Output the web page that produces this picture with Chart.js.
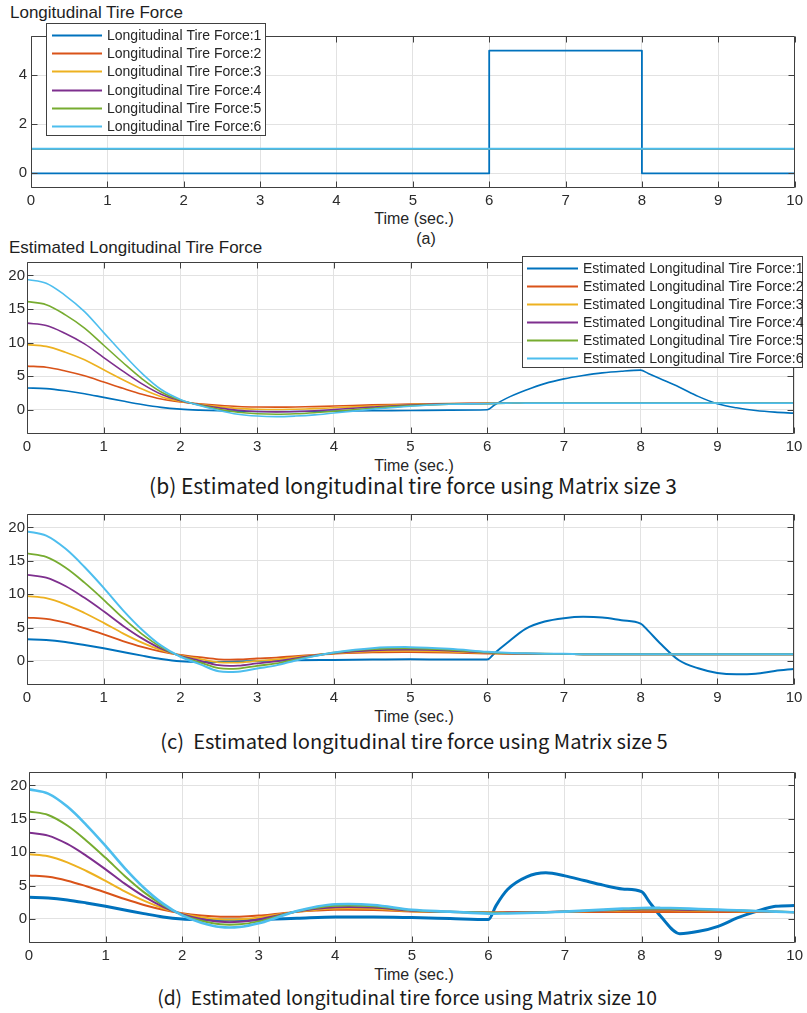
<!DOCTYPE html>
<html><head><meta charset="utf-8">
<script src="https://cdn.jsdelivr.net/npm/chart.js@4.4.1/dist/chart.umd.min.js"></script>
<style>
html,body{margin:0;padding:0;background:#fff;}
body{width:807px;height:1013px;position:relative;overflow:hidden;font-family:"Liberation Sans",Arial,sans-serif;color:#262626;}
canvas{position:absolute;left:0;}
.t{position:absolute;white-space:pre;line-height:1;}
.title{font-size:17px;color:#1e1e1e;transform:translateY(-50%);}
.xl{font-size:16px;color:#262626;transform:translate(-50%,-50%);}
.cap{font-family:"Noto Sans CJK KR","Noto Sans",sans-serif;font-size:17px;color:#1a1a1a;transform:translate(-50%,-50%);}
</style></head><body>
<div class="t title" style="left:10px;top:12px">Longitudinal Tire Force</div>
<div class="t xl" style="left:414px;top:219px">Time (sec.)</div>
<div class="t xl" style="left:426px;top:239px">(a)</div>
<div class="t title" style="left:9px;top:247px">Estimated Longitudinal Tire Force</div>
<div class="t xl" style="left:414px;top:466px">Time (sec.)</div>
<div class="t cap" data-w="528" style="left:413px;top:486px">(b) Estimated longitudinal tire force using Matrix size 3</div>
<div class="t xl" style="left:414px;top:717px">Time (sec.)</div>
<div class="t cap" data-w="508" style="left:414px;top:741px">(c)  Estimated longitudinal tire force using Matrix size 5</div>
<div class="t xl" style="left:414px;top:975px">Time (sec.)</div>
<div class="t cap" data-w="500" style="left:407px;top:998px">(d)  Estimated longitudinal tire force using Matrix size 10</div>
<script>
// ---------- data ----------
const xTicks = [0,1,2,3,4,5,6,7,8,9,10];
const yTicksA = [0,2,4];
const yTicksEst = [0,5,10,15,20];
const colors = ['#0072BD','#D95319','#EDB120','#7E2F8E','#77AC30','#4DBEEE'];
const labelsA = ['Longitudinal Tire Force:1','Longitudinal Tire Force:2','Longitudinal Tire Force:3','Longitudinal Tire Force:4','Longitudinal Tire Force:5','Longitudinal Tire Force:6'];
const labelsEst = ['Estimated Longitudinal Tire Force:1','Estimated Longitudinal Tire Force:2','Estimated Longitudinal Tire Force:3','Estimated Longitudinal Tire Force:4','Estimated Longitudinal Tire Force:5','Estimated Longitudinal Tire Force:6'];

// (a) true forces
const tA = [0,6,6,8,8,10];
const a1 = [0,0,5,5,0,0];
const a2 = [1,1,1,1,1,1];
const a3 = [1,1,1,1,1,1];
const a4 = [1,1,1,1,1,1];
const a5 = [1,1,1,1,1,1];
const a6 = [1,1,1,1,1,1];

// time grid for estimated forces 2..6
const tE = [0,0.25,0.5,0.75,1,1.25,1.5,1.75,2,2.25,2.5,2.75,3,3.25,3.5,3.75,4,4.5,5,5.5,6,6.25,6.5,6.75,7,7.25,7.5,7.75,8,8.25,8.5,8.75,9,9.25,9.5,9.75,10];
// time grid for estimated force 1 (denser near the steps)
const tS = [0,0.25,0.5,0.75,1,1.25,1.5,1.75,2,2.25,2.5,2.75,3,3.5,4,4.5,5,5.5,6,6.1,6.25,6.5,6.75,7,7.25,7.5,7.75,8,8.1,8.25,8.5,8.75,9,9.25,9.5,9.75,10];

// (b) matrix size 3
const b1 = [3.25,3.15,2.83,2.4,1.85,1.3,0.78,0.36,0.1,-0.05,-0.15,-0.2,-0.24,-0.25,-0.2,-0.15,-0.1,-0.05,0,0.75,1.7,2.9,3.9,4.6,5.1,5.5,5.75,5.9,5.4,4.65,3.4,2.0,0.9,0.3,-0.1,-0.35,-0.5];
const b2 = [6.5,6.34,5.79,5.07,4.14,3.2,2.32,1.61,1.17,0.89,0.67,0.5,0.42,0.4,0.42,0.48,0.56,0.73,0.86,0.95,0.97,1,1,1,1,1,1,1,1,1,1,1,1,1,1,1,1];
const b3 = [9.7,9.44,8.57,7.44,5.96,4.48,3.09,1.96,1.26,0.83,0.48,0.22,0.09,0.04,0.09,0.17,0.3,0.57,0.78,0.91,0.96,1,1,1,1,1,1,1,1,1,1,1,1,1,1,1,1];
const b4 = [12.9,12.54,11.35,9.81,7.78,5.76,3.86,2.31,1.36,0.76,0.29,-0.07,-0.25,-0.31,-0.25,-0.13,0.05,0.4,0.7,0.88,0.94,1,1,1,1,1,1,1,1,1,1,1,1,1,1,1,1];
const b5 = [16.1,15.65,14.14,12.17,9.61,7.04,4.62,2.66,1.45,0.7,0.09,-0.36,-0.59,-0.66,-0.59,-0.43,-0.21,0.24,0.62,0.85,0.92,1,1,1,1,1,1,1,1,1,1,1,1,1,1,1,1];
const b6 = [19.4,18.85,17.01,14.62,11.49,8.36,5.42,3.02,1.55,0.63,-0.1,-0.66,-0.93,-1.02,-0.93,-0.75,-0.47,0.08,0.54,0.82,0.91,1,1,1,1,1,1,1,1,1,1,1,1,1,1,1,1];

// (c) matrix size 5
const c1 = [3.25,3.15,2.85,2.4,1.9,1.35,0.8,0.3,-0.05,-0.15,-0.15,-0.1,0,0.1,0.15,0.2,0.25,0.2,0.2,1.2,2.6,4.8,5.9,6.4,6.6,6.5,6.1,5.6,4.5,2.7,0.1,-1.1,-1.8,-2.0,-1.9,-1.5,-1.2];
const c2 = [6.5,6.31,5.73,4.9,3.97,2.98,2.1,1.39,0.89,0.56,0.25,0.22,0.37,0.5,0.73,0.92,1.08,1.28,1.32,1.25,1.11,1.07,1.04,1.03,1.02,1,1,1,1,1,1,1,1,1,1,1,1];
const c3 = [9.7,9.4,8.48,7.18,5.7,4.13,2.74,1.61,0.83,0.3,-0.2,-0.24,0.0,0.22,0.57,0.87,1.13,1.44,1.5,1.39,1.17,1.1,1.07,1.04,1.03,1,1,1,1,1,1,1,1,1,1,1,1];
const c4 = [12.9,12.48,11.23,9.45,7.43,5.28,3.38,1.83,0.76,0.05,-0.64,-0.7,-0.37,-0.07,0.4,0.82,1.18,1.6,1.69,1.54,1.24,1.14,1.1,1.06,1.04,1,1,1,1,1,1,1,1,1,1,1,1];
const c5 = [16.1,15.57,13.99,11.72,9.15,6.44,4.02,2.06,0.7,-0.21,-1.08,-1.14,-0.74,-0.36,0.24,0.77,1.23,1.76,1.88,1.68,1.3,1.18,1.12,1.08,1.05,1,1,1,1,1,1,1,1,1,1,1,1];
const c6 = [19.4,18.76,16.82,14.06,10.94,7.62,4.68,2.29,0.63,-0.47,-1.55,-1.6,-1.12,-0.66,0.08,0.72,1.28,1.92,2.07,1.83,1.37,1.22,1.15,1.09,1.06,1,1,1,1,1,1,1,1,1,1,1,1];

// (d) matrix size 10
const d1 = [3.25,3.15,2.85,2.4,1.9,1.35,0.8,0.3,0.0,-0.1,-0.15,-0.15,-0.1,0.1,0.3,0.3,0.2,0.05,-0.1,2.0,4.4,6.3,6.9,6.45,5.75,5.06,4.5,4.1,2.6,0.4,-2.2,-1.85,-1.1,0.15,1.13,1.9,2.0];
const d2 = [6.5,6.31,5.73,4.9,3.97,2.98,2.1,1.39,0.86,0.53,0.34,0.34,0.5,0.78,1.06,1.25,1.36,1.33,1.11,1.03,0.97,1.05,1.05,1.05,1.05,1.05,1.05,1.05,1.05,1.05,1.05,1.05,1.05,1.05,1.05,1.05,1.05];
const d3 = [9.7,9.4,8.48,7.18,5.7,4.13,2.74,1.61,0.78,0.26,-0.04,-0.04,0.22,0.65,1.09,1.39,1.57,1.52,1.17,1.04,0.96,1.0,1.02,1.05,1.1,1.15,1.2,1.25,1.3,1.3,1.28,1.25,1.2,1.15,1.1,1.05,1.0];
const d4 = [12.9,12.48,11.23,9.45,7.43,5.28,3.38,1.83,0.7,-0.01,-0.43,-0.43,-0.07,0.52,1.12,1.54,1.77,1.71,1.24,1.06,0.94,0.95,0.98,1.03,1.1,1.2,1.28,1.36,1.42,1.42,1.38,1.33,1.28,1.22,1.15,1.08,1.02];
const d5 = [16.1,15.57,13.99,11.72,9.15,6.44,4.02,2.06,0.62,-0.28,-0.81,-0.81,-0.36,0.4,1.15,1.68,1.98,1.91,1.3,1.08,0.92,0.88,0.93,1.0,1.1,1.22,1.33,1.44,1.52,1.53,1.5,1.42,1.35,1.27,1.18,1.1,1.02];
const d6 = [19.4,18.76,16.82,14.06,10.94,7.62,4.68,2.29,0.54,-0.56,-1.21,-1.21,-0.66,0.26,1.18,1.83,2.2,2.1,1.37,1.09,0.8,0.82,0.88,0.97,1.1,1.25,1.4,1.55,1.65,1.65,1.6,1.5,1.4,1.3,1.2,1.1,1.0];

// ---------- plugins ----------
const matAxes = {
  id: 'matAxes',
  afterDatasetsDraw(chart) {
    const {ctx, chartArea: a, scales: {x, y}} = chart;
    ctx.save();
    ctx.strokeStyle = '#404040';
    ctx.lineWidth = 1;
    const L = Math.round(a.left) + 0.5, R = Math.round(a.right) - 0.5;
    const T = Math.round(a.top) + 0.5, B = Math.round(a.bottom) - 0.5;
    const tl = 6;
    ctx.beginPath();
    ctx.rect(L, T, R - L, B - T);
    x.ticks.forEach(t => {
      const px = Math.round(x.getPixelForValue(t.value)) + 0.5;
      ctx.moveTo(px, B); ctx.lineTo(px, B - tl);
      ctx.moveTo(px, T); ctx.lineTo(px, T + tl);
    });
    y.ticks.forEach(t => {
      const py = Math.round(y.getPixelForValue(t.value)) + 0.5;
      ctx.moveTo(L, py); ctx.lineTo(L + tl, py);
      ctx.moveTo(R, py); ctx.lineTo(R - tl, py);
    });
    ctx.stroke();
    ctx.restore();
  }
};
const matLegend = {
  id: 'matLegend',
  afterDraw(chart, args, o) {
    if (!o || !o.show) return;
    const ctx = chart.ctx;
    ctx.save();
    ctx.fillStyle = '#fff';
    ctx.fillRect(o.x, o.y, o.w, o.h);
    ctx.strokeStyle = '#404040'; ctx.lineWidth = 1;
    ctx.strokeRect(o.x + 0.5, o.y + 0.5, o.w - 1, o.h - 1);
    ctx.font = '14px "Liberation Sans", Arial, sans-serif';
    ctx.textBaseline = 'middle';
    chart.data.datasets.forEach((ds, i) => {
      const yy = Math.round(o.y + o.first + i * o.row) + 0.5;
      ctx.strokeStyle = ds.borderColor; ctx.lineWidth = 2;
      ctx.beginPath(); ctx.moveTo(o.x + o.l0, yy); ctx.lineTo(o.x + o.l1, yy); ctx.stroke();
      ctx.fillStyle = '#262626';
      ctx.fillText(ds.label, o.x + o.tx, yy + 0.5);
    });
    ctx.restore();
  }
};

// ---------- builder ----------
function makePanel(cfg) {
  const cv = document.createElement('canvas');
  cv.width = 807; cv.height = cfg.padTop + (cfg.B - cfg.T) + 30;
  cv.style.top = (cfg.T - cfg.padTop) + 'px';
  cv.style.width = '807px'; cv.style.height = cv.height + 'px';
  document.body.appendChild(cv);
  const datasets = cfg.series.map((arr, i) => {
    const tt = cfg.times[i];
    let mode = {tension: 0, cubicInterpolationMode: 'default'};
    if (cfg.smooth) mode = (i === 0) ? {tension: 0, cubicInterpolationMode: 'monotone'} : {tension: 0.35, cubicInterpolationMode: 'default'};
    return Object.assign({
      label: cfg.labels[i],
      data: tt.map((tv, k) => ({x: tv, y: arr[k]})),
      borderColor: colors[i],
      backgroundColor: colors[i],
      borderWidth: cfg.widths[i],
      pointRadius: 0,
      fill: false,
      order: 6 - i,
      borderJoinStyle: 'round'
    }, mode);
  });
  const tickFont = {family: '"Liberation Sans", Arial, sans-serif', size: 15};
  const grid = {color: '#e2e2e2', lineWidth: 1, drawTicks: false};
  new Chart(cv, {
    type: 'line',
    data: {datasets},
    plugins: cfg.legend ? [matAxes, matLegend] : [matAxes],
    options: {
      responsive: false, animation: false, events: [],
      layout: {padding: {top: cfg.padTop, left: 0, right: 807 - cfg.R, bottom: 0}},
      plugins: {
        legend: {display: false}, tooltip: {enabled: false}, title: {display: false},
        matLegend: cfg.legend || {show: false}
      },
      scales: {
        x: {
          type: 'linear', min: 0, max: 10,
          afterBuildTicks: s => { s.ticks = xTicks.map(v => ({value: v})); },
          afterFit: s => { s.height = 30; },
          ticks: {font: tickFont, color: '#2b2b2b', padding: 4, maxRotation: 0, autoSkip: false, callback: v => String(v)},
          grid, border: {display: false}
        },
        y: {
          type: 'linear', min: cfg.ymin, max: cfg.ymax,
          afterBuildTicks: s => { s.ticks = cfg.yTicks.map(v => ({value: v})); },
          afterFit: s => { s.width = cfg.L; },
          ticks: {font: tickFont, color: '#2b2b2b', padding: cfg.ypad, callback: v => String(v)},
          grid, border: {display: false}
        }
      }
    }
  });
}

const timesA = [tA, tA, tA, tA, tA, tA];
const timesE = [tS, tE, tE, tE, tE, tE];

makePanel({T: 36, B: 188, L: 31, R: 798, padTop: 36, ymin: -0.6, ymax: 5.6, yTicks: yTicksA, ypad: 4,
  times: timesA, series: [a1,a2,a3,a4,a5,a6], labels: labelsA, widths: [1.8,1.5,1.5,1.5,1.5,1.8], smooth: false,
  legend: {show: true, x: 46, y: 23, w: 220, h: 113, first: 12, row: 18.2, l0: 6, l1: 56, tx: 61}});
makePanel({T: 262, B: 434, L: 27, R: 794, padTop: 20, ymin: -3.6, ymax: 22, yTicks: yTicksEst, ypad: 2,
  times: timesE, series: [b1,b2,b3,b4,b5,b6], labels: labelsEst, widths: [1.6,1.6,1.6,1.6,1.6,1.6], smooth: true,
  legend: {show: true, x: 522, y: 14, w: 281, h: 112, first: 12.3, row: 18, l0: 5, l1: 56, tx: 61}});
makePanel({T: 513, B: 685, L: 27, R: 794, padTop: 10, ymin: -3.6, ymax: 22, yTicks: yTicksEst, ypad: 2,
  times: timesE, series: [c1,c2,c3,c4,c5,c6], labels: labelsEst, widths: [2,1.8,1.8,1.8,1.8,2], smooth: true, legend: null});
makePanel({T: 771, B: 943, L: 29, R: 796, padTop: 10, ymin: -3.6, ymax: 22, yTicks: yTicksEst, ypad: 2,
  times: timesE, series: [d1,d2,d3,d4,d5,d6], labels: labelsEst, widths: [3,2,2,2,2,2.6], smooth: true, legend: null});

// fit caption widths
document.querySelectorAll('[data-w]').forEach(el => {
  el.style.fontSize = '100px';
  const w = el.getBoundingClientRect().width;
  el.style.fontSize = (100 * Number(el.dataset.w) / w).toFixed(2) + 'px';
});
</script>
</body></html>
